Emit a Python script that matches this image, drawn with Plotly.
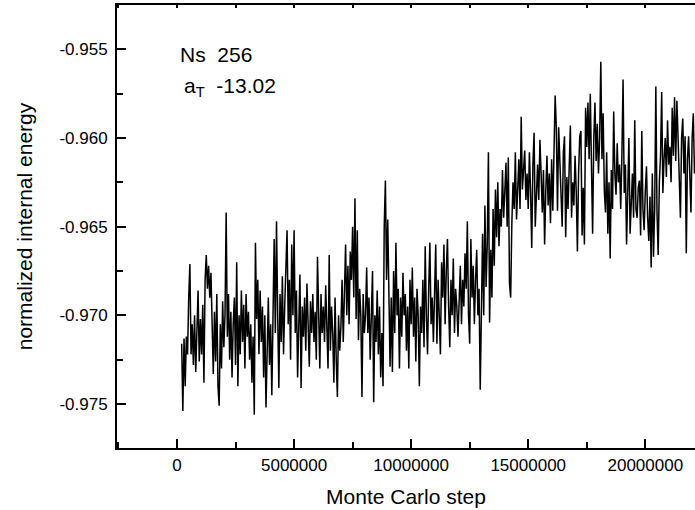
import numpy as np
import plotly.graph_objects as go

# normalized internal energy, one value every 50000 MC steps (0.2M .. 22.1M)
energy = [
    # 0.2 - 1.0 M
    -0.9716, -0.9754, -0.9713, -0.9740, -0.9712, -0.9722, -0.9690, -0.9671, -0.9722, -0.9705,
    -0.9728, -0.9700, -0.9732, -0.9712, -0.9686, -0.9726, -0.9702,
    # 1 - 2 M
    -0.9722, -0.9694, -0.9738, -0.9680, -0.9666, -0.9685, -0.9672, -0.9690, -0.9676, -0.9712,
    -0.9733, -0.9698, -0.9726, -0.9688, -0.9740, -0.9751, -0.9705, -0.9730, -0.9692, -0.9718,
    # 2 - 3 M
    -0.9700, -0.9642, -0.9712, -0.9688, -0.9725, -0.9698, -0.9735, -0.9705, -0.9690, -0.9728,
    -0.9670, -0.9740, -0.9700, -0.9722, -0.9686, -0.9715, -0.9694, -0.9730, -0.9688, -0.9712,
    # 3 - 4 M
    -0.9698, -0.9725, -0.9705, -0.9738, -0.9712, -0.9756, -0.9659, -0.9702, -0.9680, -0.9722,
    -0.9686, -0.9715, -0.9695, -0.9735, -0.9700, -0.9752, -0.9710, -0.9690, -0.9728, -0.9705,
    # 4 - 5 M
    -0.9745, -0.9690, -0.9657, -0.9710, -0.9647, -0.9700, -0.9741, -0.9688, -0.9715, -0.9678,
    -0.9722, -0.9695, -0.9672, -0.9652, -0.9705, -0.9680, -0.9725, -0.9660, -0.9700, -0.9652,
    # 5 - 6 M
    -0.9710, -0.9686, -0.9735, -0.9700, -0.9677, -0.9741, -0.9695, -0.9712, -0.9690, -0.9720,
    -0.9682, -0.9705, -0.9729, -0.9692, -0.9710, -0.9688, -0.9715, -0.9698, -0.9725, -0.9667,
    # 6 - 7 M
    -0.9702, -0.9730, -0.9688, -0.9710, -0.9695, -0.9715, -0.9683, -0.9705, -0.9730, -0.9666,
    -0.9720, -0.9695, -0.9710, -0.9738, -0.9690, -0.9725, -0.9746, -0.9700, -0.9720, -0.9706,
    # 7 - 8 M
    -0.9680, -0.9715, -0.9690, -0.9660, -0.9700, -0.9672, -0.9705, -0.9664, -0.9680, -0.9650,
    -0.9690, -0.9634, -0.9702, -0.9652, -0.9714, -0.9685, -0.9700, -0.9746, -0.9688, -0.9710,
    # 8 - 9 M
    -0.9700, -0.9673, -0.9710, -0.9690, -0.9725, -0.9694, -0.9675, -0.9749, -0.9700, -0.9715,
    -0.9686, -0.9722, -0.9695, -0.9735, -0.9710, -0.9740, -0.9650, -0.9624, -0.9680, -0.9646,
    # 9 - 10 M
    -0.9700, -0.9729, -0.9690, -0.9732, -0.9675, -0.9710, -0.9659, -0.9700, -0.9685, -0.9730,
    -0.9690, -0.9712, -0.9676, -0.9700, -0.9688, -0.9720, -0.9695, -0.9730, -0.9680, -0.9705,
    # 10 - 11 M
    -0.9673, -0.9712, -0.9690, -0.9726, -0.9685, -0.9700, -0.9740, -0.9695, -0.9710, -0.9680,
    -0.9718, -0.9661, -0.9700, -0.9722, -0.9685, -0.9659, -0.9705, -0.9690, -0.9715, -0.9680,
    # 11 - 12 M
    -0.9660, -0.9716, -0.9680, -0.9700, -0.9722, -0.9670, -0.9690, -0.9660, -0.9705, -0.9675,
    -0.9657, -0.9695, -0.9718, -0.9680, -0.9700, -0.9668, -0.9710, -0.9685, -0.9695, -0.9712,
    # 12 - 13 M
    -0.9690, -0.9672, -0.9705, -0.9680, -0.9695, -0.9665, -0.9685, -0.9647, -0.9700, -0.9716,
    -0.9657, -0.9690, -0.9672, -0.9705, -0.9680, -0.9663, -0.9700, -0.9685, -0.9742, -0.9690,
    # 13 - 14 M
    -0.9654, -0.9700, -0.9638, -0.9684, -0.9660, -0.9608, -0.9704, -0.9663, -0.9690, -0.9640,
    -0.9672, -0.9629, -0.9656, -0.9625, -0.9661, -0.9640, -0.9650, -0.9618, -0.9645, -0.9630,
    # 14 - 15 M
    -0.9614, -0.9650, -0.9611, -0.9682, -0.9690, -0.9648, -0.9625, -0.9640, -0.9608, -0.9646,
    -0.9625, -0.9612, -0.9640, -0.9588, -0.9629, -0.9615, -0.9607, -0.9635, -0.9620, -0.9640,
    # 15 - 16 M
    -0.9608, -0.9630, -0.9662, -0.9615, -0.9597, -0.9650, -0.9625, -0.9615, -0.9635, -0.9601,
    -0.9620, -0.9642, -0.9618, -0.9660, -0.9630, -0.9610, -0.9638, -0.9620, -0.9648, -0.9612,
    # 16 - 17 M
    -0.9641, -0.9600, -0.9576, -0.9594, -0.9641, -0.9594, -0.9612, -0.9628, -0.9650, -0.9608,
    -0.9599, -0.9656, -0.9622, -0.9640, -0.9615, -0.9593, -0.9645, -0.9625, -0.9638, -0.9610,
    # 17 - 18 M
    -0.9630, -0.9664, -0.9620, -0.9599, -0.9596, -0.9655, -0.9628, -0.9660, -0.9583, -0.9605,
    -0.9580, -0.9612, -0.9575, -0.9610, -0.9654, -0.9600, -0.9580, -0.9613, -0.9592, -0.9620,
    # 18 - 19 M
    -0.9600, -0.9557, -0.9612, -0.9586, -0.9630, -0.9642, -0.9608, -0.9654, -0.9625, -0.9668,
    -0.9618, -0.9640, -0.9585, -0.9620, -0.9632, -0.9603, -0.9625, -0.9615, -0.9640, -0.9610,
    # 19 - 20 M
    -0.9567, -0.9631, -0.9615, -0.9660, -0.9625, -0.9600, -0.9654, -0.9630, -0.9620, -0.9645,
    -0.9590, -0.9640, -0.9645, -0.9628, -0.9624, -0.9655, -0.9596, -0.9640, -0.9652, -0.9630,
    # 20 - 21 M
    -0.9616, -0.9645, -0.9658, -0.9633, -0.9673, -0.9620, -0.9667, -0.9640, -0.9571, -0.9642,
    -0.9666, -0.9625, -0.9610, -0.9574, -0.9631, -0.9612, -0.9600, -0.9622, -0.9590, -0.9615,
    # 21 - 22.1 M
    -0.9605, -0.9625, -0.9583, -0.9610, -0.9577, -0.9613, -0.9579, -0.9600, -0.9625, -0.9645,
    -0.9600, -0.9589, -0.9620, -0.9599, -0.9665, -0.9612, -0.9599, -0.9630, -0.9642, -0.9600,
    -0.9586, -0.9620,
]
mc_step = np.linspace(200000, 22100000, len(energy))

x_ticks = [0, 5000000, 10000000, 15000000, 20000000]
y_ticks = [-0.975, -0.970, -0.965, -0.960, -0.955]
y_tick_labels = ["-0.975", "-0.970", "-0.965", "-0.960", "-0.955"]

FONT = "Liberation Sans, Arial, sans-serif"

fig = go.Figure()
fig.add_trace(go.Scatter(
    x=mc_step, y=energy, mode="lines",
    line=dict(color="black", width=1.5),
    showlegend=False, hoverinfo="skip",
))
# empty trace so the top axis gets drawn
fig.add_trace(go.Scatter(x=[], y=[], xaxis="x2", showlegend=False))

axis_common = dict(
    showline=True, linecolor="black", linewidth=2,
    ticks="inside", ticklen=9, tickwidth=2, tickcolor="black",
    showgrid=False, zeroline=False, automargin=False,
    tickfont=dict(family=FONT, size=17, color="black"),
)

fig.update_layout(
    width=695, height=510,
    margin=dict(l=117, r=0, t=5, b=62),
    paper_bgcolor="white", plot_bgcolor="white",
    font=dict(family=FONT, color="black"),
    xaxis=dict(
        **axis_common,
        range=[-2562500, 22122500],
        tickvals=x_ticks, ticktext=[str(v) for v in x_ticks],
        minor=dict(ticks="inside", ticklen=6, tickwidth=2, tickcolor="black", dtick=2500000, tick0=0),
        ticklabelstandoff=1,
        title=dict(text="Monte Carlo step", font=dict(family=FONT, size=21), standoff=15),
    ),
    xaxis2=dict(
        overlaying="x", matches="x", side="top", automargin=False,
        showline=True, linecolor="black", linewidth=2,
        ticks="inside", ticklen=3, tickwidth=2, tickcolor="black",
        tickvals=x_ticks, showticklabels=False, showgrid=False, zeroline=False,
        minor=dict(ticks="inside", ticklen=3, tickwidth=2, tickcolor="black", dtick=2500000, tick0=0),
    ),
    yaxis=dict(
        **axis_common,
        range=[-0.97748, -0.95250],
        tickvals=y_ticks, ticktext=y_tick_labels,
        minor=dict(ticks="inside", ticklen=6, tickwidth=2, tickcolor="black", dtick=0.0025, tick0=-0.975),
        ticklabelstandoff=4,
        title=dict(text="normalized internal energy", font=dict(family=FONT, size=21), standoff=21),
    ),
)

fig.add_annotation(
    text="Ns  256", xref="paper", yref="paper", x=0.106, y=0.889,
    xanchor="left", yanchor="middle", showarrow=False,
    font=dict(family=FONT, size=21, color="black"),
)
fig.add_annotation(
    text="a<sub>T</sub>  -13.02", xref="paper", yref="paper", x=0.112, y=0.816,
    xanchor="left", yanchor="middle", showarrow=False,
    font=dict(family=FONT, size=21, color="black"),
)

# page body has a default 8px margin; drop it so the figure sits at the corner
fig.write_html(
    "out.html",
    config={"displayModeBar": False},
    post_script="document.body.style.margin='0px';",
)
